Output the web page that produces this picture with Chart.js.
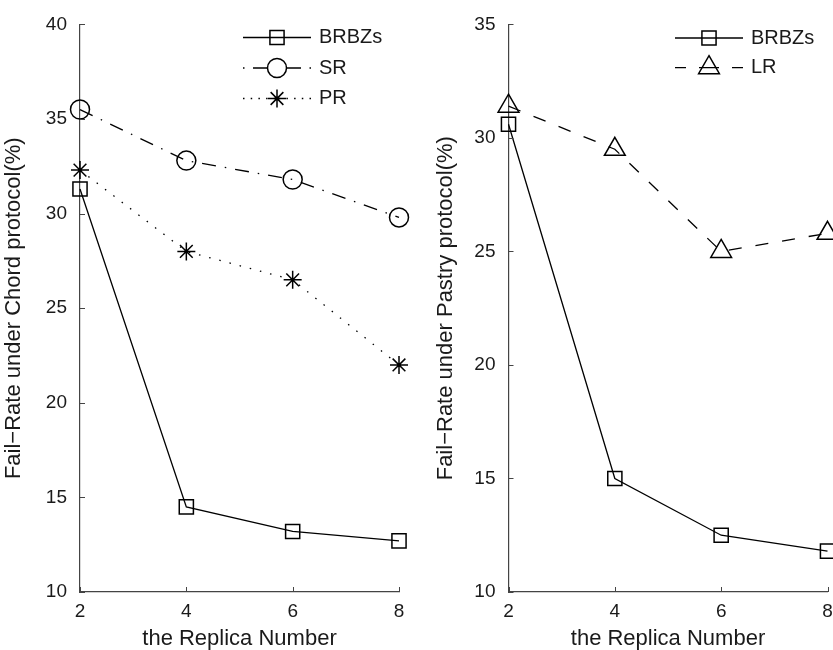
<!DOCTYPE html>
<html><head><meta charset="utf-8">
<script src="https://cdn.jsdelivr.net/npm/chart.js@4.4.0/dist/chart.umd.min.js"></script>
<style>
html,body{margin:0;padding:0;width:833px;height:650px;overflow:hidden;background:#fff;position:relative;}
#c1{position:absolute;left:0;top:0;}
#c2{position:absolute;left:420px;top:0;}
</style></head><body>
<canvas id="c1" width="420" height="650"></canvas>
<canvas id="c2" width="440" height="650"></canvas>
<script>
// ---- data ----
const replicaNumbers = [2, 4, 6, 8];
const chordBRBZs = [31.3, 14.5, 13.2, 12.7];
const chordSR    = [35.5, 32.8, 31.8, 29.8];
const chordPR    = [32.3, 28.0, 26.5, 22.0];
const pastryBRBZs = [30.6, 15.0, 12.5, 11.8];
const pastryLR    = [31.4, 29.5, 25.0, 25.8];
const chordYTicks  = [10, 15, 20, 25, 30, 35, 40];
const pastryYTicks = [10, 15, 20, 25, 30, 35];
const xTitle = 'the Replica Number';
const chordYTitle = 'Fail\u2212Rate under Chord protocol(%)';
const pastryYTitle = 'Fail\u2212Rate under Pastry protocol(%)';

// ---- styles ----
const axisColor = '#444';
const textColor = '#1a1a1a';
const FONT = "'Liberation Sans', Arial, Helvetica, sans-serif";

function pts(vals) { return replicaNumbers.map((x, i) => ({ x: x, y: vals[i] })); }

function drawMarker(ctx, style, r, x, y, lw) {
  ctx.save(); ctx.setLineDash([]); ctx.lineWidth = lw; ctx.strokeStyle = '#000';
  ctx.beginPath();
  if (style === 'rect') { const s = r * Math.SQRT1_2; ctx.rect(x - s, y - s, 2 * s, 2 * s); }
  else if (style === 'circle') { ctx.arc(x, y, r, 0, Math.PI * 2); }
  else if (style === 'triangle') {
    for (let i = 0; i < 3; i++) { const a = i * 2 * Math.PI / 3; const px = x + Math.sin(a) * r, py = y - Math.cos(a) * r; if (i) ctx.lineTo(px, py); else ctx.moveTo(px, py); }
    ctx.closePath();
  } else if (style === 'star') {
    for (let i = 0; i < 4; i++) { const a = i * Math.PI / 4; ctx.moveTo(x + Math.cos(a) * r, y + Math.sin(a) * r); ctx.lineTo(x - Math.cos(a) * r, y - Math.sin(a) * r); }
  }
  ctx.stroke(); ctx.restore();
}

const inwardTicks = {
  id: 'inwardTicks',
  afterDatasetsDraw(chart) {
    const ctx = chart.ctx; const xs = chart.scales.x, ys = chart.scales.y;
    ctx.save(); ctx.strokeStyle = axisColor; ctx.lineWidth = 1; ctx.setLineDash([]);
    ctx.beginPath();
    for (const t of xs.ticks) { const p = Math.round(xs.getPixelForValue(t.value)) + 0.5; ctx.moveTo(p, ys.bottom); ctx.lineTo(p, ys.bottom - 5); }
    for (const t of ys.ticks) { const p = Math.round(ys.getPixelForValue(t.value)) + 0.5; ctx.moveTo(xs.left, p); ctx.lineTo(xs.left + 5, p); }
    ctx.stroke(); ctx.restore();
  }
};

const lineLegend = {
  id: 'lineLegend',
  afterDraw(chart, args, opts) {
    const ctx = chart.ctx;
    chart.data.datasets.forEach((ds, i) => {
      const y = opts.y0 + i * opts.gap;
      const xm = (opts.x0 + opts.x1) / 2;
      ctx.save();
      ctx.strokeStyle = '#000'; ctx.lineWidth = ds.borderWidth;
      ctx.setLineDash(ds.legendDash || []);
      ctx.beginPath(); ctx.moveTo(opts.x0, y); ctx.lineTo(xm, y); ctx.stroke();
      ctx.beginPath(); ctx.moveTo(opts.x1, y); ctx.lineTo(xm, y); ctx.stroke();
      ctx.restore();
      drawMarker(ctx, ds.pointStyle, ds.pointRadius, xm, y, ds.pointBorderWidth);
      ctx.save(); ctx.fillStyle = textColor; ctx.font = opts.font; ctx.textBaseline = 'middle'; ctx.textAlign = 'left';
      ctx.fillText(ds.label, opts.textX, y); ctx.restore();
    });
  }
};

function series(label, vals, style, radius, dash, legendDash) {
  return {
    label: label, data: pts(vals),
    borderColor: '#000', borderWidth: 1.3, borderDash: dash, tension: 0,
    pointStyle: style, pointRadius: radius, pointBorderWidth: 1.5,
    pointBackgroundColor: 'rgba(0,0,0,0)', pointBorderColor: '#000',
    clip: false, legendDash: legendDash
  };
}

function makeChart(id, datasets, yTicks, yTitle, o) {
  return new Chart(document.getElementById(id), {
    type: 'line',
    data: { datasets: datasets },
    options: {
      responsive: false, animation: false, devicePixelRatio: 1,
      layout: { padding: { left: 0, top: 20, right: o.padRight, bottom: 0 } },
      plugins: { legend: { display: false }, tooltip: { enabled: false }, lineLegend: o.legend },
      scales: {
        x: {
          type: 'linear', min: replicaNumbers[0], max: replicaNumbers[replicaNumbers.length - 1],
          afterBuildTicks: s => { s.ticks = replicaNumbers.map(v => ({ value: v })); },
          afterFit: s => { s.height = 58; },
          grid: { display: false, drawTicks: false },
          border: { display: true, color: axisColor, width: 1.2 },
          ticks: { padding: 8, color: textColor, font: { family: FONT, size: 19 }, maxRotation: 0, autoSkip: false },
          title: { display: true, text: xTitle, color: textColor, font: { family: FONT, size: 22, lineHeight: 1 }, padding: { top: 0, bottom: 0 } }
        },
        y: {
          type: 'linear', min: yTicks[0], max: yTicks[yTicks.length - 1],
          afterBuildTicks: s => { s.ticks = yTicks.map(v => ({ value: v })); },
          afterFit: s => { s.width = o.yWidth; },
          grid: { display: false, drawTicks: false },
          border: { display: true, color: axisColor, width: 1.2 },
          ticks: { padding: 13, color: textColor, font: { family: FONT, size: 19 }, autoSkip: false },
          title: { display: true, text: yTitle, color: textColor, font: { family: FONT, size: 22, lineHeight: 1 }, padding: { top: o.yTitlePad, bottom: 0 } }
        }
      }
    },
    plugins: [inwardTicks, lineLegend]
  });
}

makeChart('c1', [
  series('BRBZs', chordBRBZs, 'rect', 10, [], []),
  series('SR', chordSR, 'circle', 9.5, [14, 9, 1.5, 9], [1.5, 8.5, 14, 11]),
  series('PR', chordPR, 'star', 9, [1.5, 9], [1.5, 6.2])
], chordYTicks, chordYTitle, {
  padRight: 21, yWidth: 80, yTitlePad: 2.5,
  legend: { x0: 243, x1: 311, y0: 37.5, gap: 30.5, textX: 319, font: "20px " + FONT }
});

makeChart('c2', [
  series('BRBZs', pastryBRBZs, 'rect', 10, [], []),
  series('LR', pastryLR, 'triangle', 12, [13, 14], [11, 13])
], pastryYTicks, pastryYTitle, {
  padRight: 32.5, yWidth: 88.5, yTitlePad: 15,
  legend: { x0: 255, x1: 323, y0: 38, gap: 29.7, textX: 331, font: "20px " + FONT }
});
</script>
</body></html>
